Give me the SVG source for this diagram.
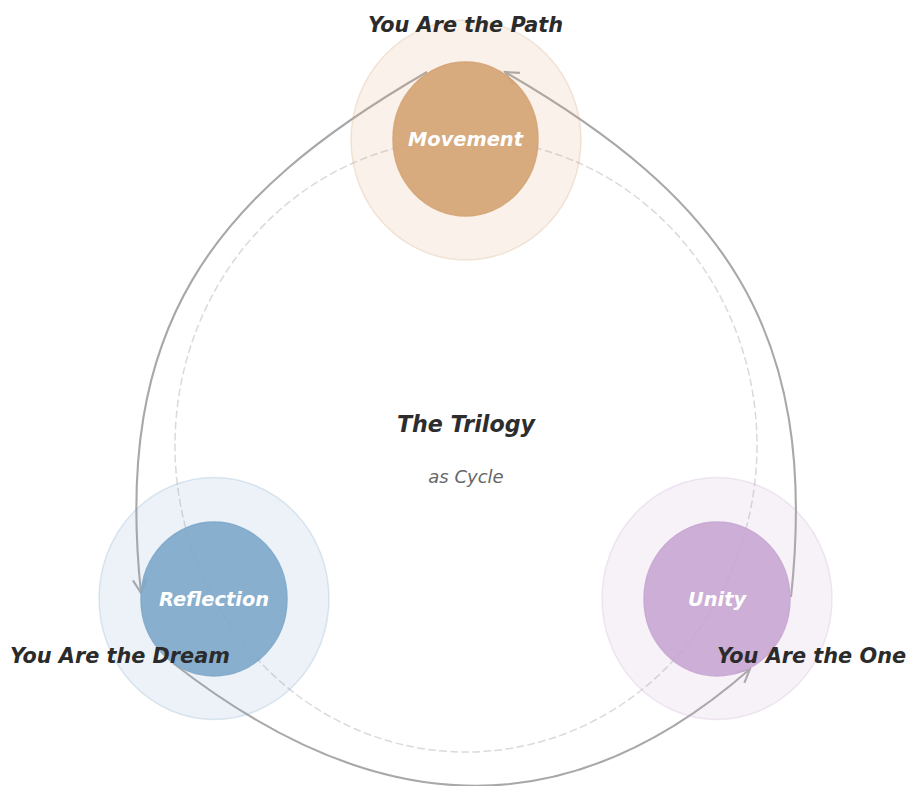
<svg xmlns="http://www.w3.org/2000/svg" width="909" height="786" viewBox="0 0 909 786">
  <style>
    .bg { fill: #ffffff; }
    .orbit { fill: none; stroke: #dadada; stroke-width: 1.5; stroke-dasharray: 7.7 3.4; }
    .flow { fill: none; stroke: #a8a8a8; stroke-width: 2.1; }
    .halo { stroke-width: 1.5; fill-opacity: 0.15; stroke-opacity: 0.25; }
    .core { stroke-width: 1.5; fill-opacity: 0.9; stroke-opacity: 0.9; }
    .label { font-family: "DejaVu Sans", "Liberation Sans", sans-serif; font-style: oblique; font-weight: bold; text-anchor: middle; }
    .node-label { font-size: 19.4px; fill: #ffffff; }
    .title { font-size: 20.8px; fill: #2b2b2b; }
    .center-title { font-size: 22.2px; fill: #2d2d2d; }
    .center-sub { font-family: "DejaVu Sans", "Liberation Sans", sans-serif; font-style: oblique; font-weight: normal; font-size: 18px; fill: #666666; text-anchor: middle; }
    .movement { fill: #d4a373; stroke: #d4a373; }
    .reflection { fill: #7ea7c9; stroke: #7ea7c9; }
    .unity { fill: #c8a6d2; stroke: #c8a6d2; }
  </style>
  <defs>
    <marker id="head" viewBox="-16 -9 18 18" refX="0" refY="0" markerWidth="18" markerHeight="18" markerUnits="userSpaceOnUse" orient="auto">
      <path d="M -13.4,-6.7 L 0,0 L -13.4,6.7" fill="none" stroke="#a8a8a8" stroke-width="2.1" stroke-linejoin="miter"/>
    </marker>
  </defs>

  <rect class="bg" x="0" y="0" width="909" height="786"/>

  <!-- guide ring through the three stages -->
  <ellipse class="orbit" cx="466" cy="445.5" rx="291" ry="306.5"/>

  <!-- cycle connectors -->
  <g id="connectors">
    <path class="flow" d="M 427,72 C 211,197 113,327 141,593" marker-end="url(#head)"/>
    <path class="flow" d="M 173,663 C 370,817 562,834 750,669" marker-end="url(#head)"/>
    <path class="flow" d="M 791,597 C 820,328 721,197 505,72" marker-end="url(#head)"/>
  </g>

  <g id="node-movement">
    <ellipse class="halo movement" cx="466" cy="140" rx="115" ry="120"/>
    <ellipse class="core movement" cx="465.5" cy="139" rx="72.5" ry="77"/>
    <text class="label node-label" x="465.5" y="145.5">Movement</text>
  </g>

  <g id="node-reflection">
    <ellipse class="halo reflection" cx="214" cy="598.5" rx="115" ry="121"/>
    <ellipse class="core reflection" cx="214" cy="599" rx="73" ry="77"/>
    <text class="label node-label" x="214" y="605.5">Reflection</text>
  </g>

  <g id="node-unity">
    <ellipse class="halo unity" cx="717" cy="598.5" rx="115" ry="121"/>
    <ellipse class="core unity" cx="717" cy="599" rx="73" ry="77"/>
    <text class="label node-label" x="717" y="605.5">Unity</text>
  </g>

  <g id="titles">
    <text class="label title" x="465.5" y="31.5">You Are the Path</text>
    <text class="label title" x="120" y="663">You Are the Dream</text>
    <text class="label title" x="811.5" y="663">You Are the One</text>
  </g>

  <g id="center">
    <text class="label center-title" x="466" y="432">The Trilogy</text>
    <text class="center-sub" x="466" y="483">as Cycle</text>
  </g>
</svg>
